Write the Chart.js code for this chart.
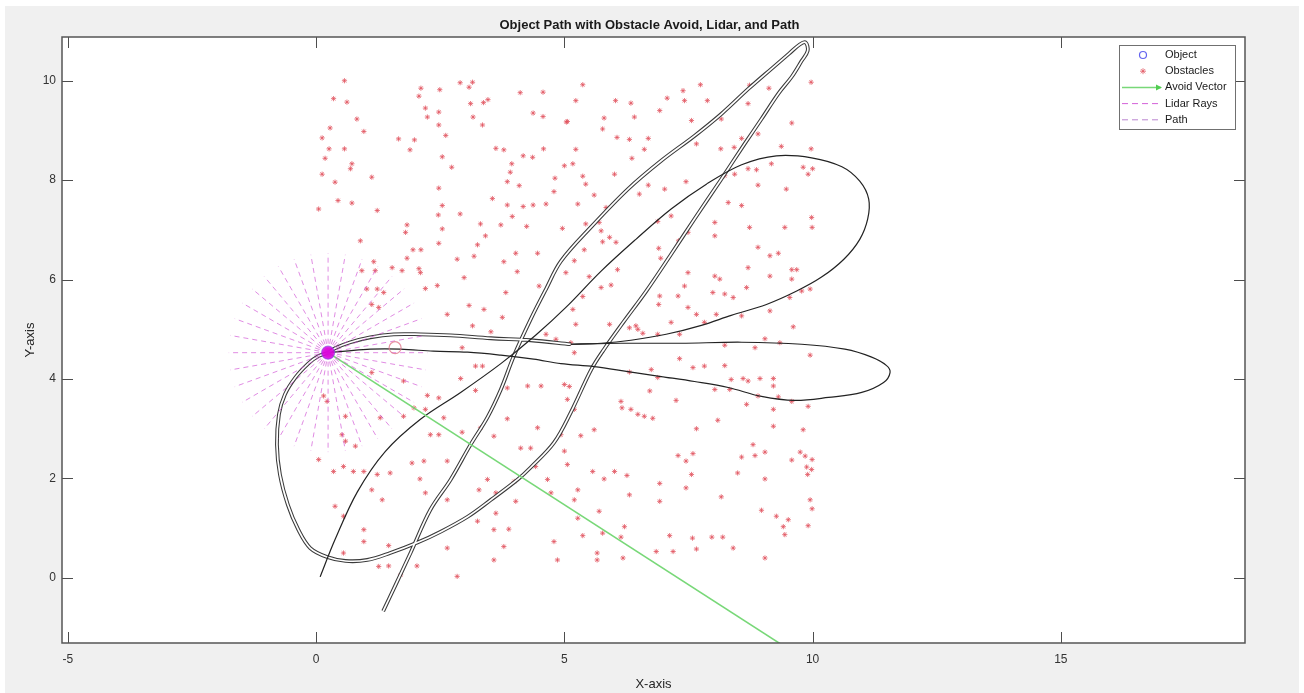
<!DOCTYPE html>
<html>
<head>
<meta charset="utf-8">
<script src="https://cdn.jsdelivr.net/npm/chart.js@4.4.1/dist/chart.umd.min.js"></script>
<style>
  html, body { margin: 0; padding: 0; background: #ffffff; overflow: hidden; }
  #wrap { position: relative; width: 1304px; height: 693px; }
</style>
</head>
<body>
<div id="wrap"><canvas id="chart" width="1304" height="693"></canvas></div>
<script>
// ---- axis ticks ----
const xTicks = [-5, 0, 5, 10, 15];
const yTicks = [0, 2, 4, 6, 8, 10];

// ---- obstacle field ----
const obstacleX = [
  0.57,0.35,0.62,0.82,0.28,0.96,0.12,0.26,0.57,0.18,0.72,0.69,0.12,0.38,1.12,0.44,0.72,0.05,1.23,0.89,
  1.83,1.80,1.66,1.98,1.89,2.11,2.07,2.49,2.20,2.47,2.24,2.47,2.61,2.54,2.73,2.90,3.15,3.08,3.11,3.37,
  3.46,3.16,3.35,4.11,4.57,4.37,4.57,5.04,3.62,3.78,4.17,4.36,4.58,3.94,3.91,5.00,3.85,4.09,4.81,4.79,
  3.55,3.85,4.17,4.37,4.63,3.95,2.47,2.54,2.46,2.90,2.54,3.31,3.41,3.72,4.24,4.96,2.47,3.25,3.18,1.95,
  2.11,1.83,2.07,2.10,2.84,2.98,3.78,4.02,4.46,4.05,1.53,1.73,0.92,1.19,1.16,2.44,2.20,2.64,3.08,3.38,
  3.75,3.82,4.49,5.03,1.02,1.23,1.36,1.12,1.26,
  5.37,5.23,6.03,6.34,7.07,7.39,7.42,7.88,7.74,8.73,9.12,9.97,5.06,5.80,5.77,6.41,6.92,7.56,8.16,8.70,
  9.58,6.06,6.31,6.69,5.23,6.61,6.36,7.66,8.15,8.42,8.57,8.90,9.37,9.97,5.17,5.37,5.43,6.01,5.60,5.27,
  6.51,6.69,7.02,7.45,8.23,8.43,8.70,8.87,9.17,9.81,9.91,10.00,8.90,9.47,8.30,8.57,5.84,5.43,5.70,5.74,
  5.91,5.77,6.04,6.88,7.15,7.49,7.30,8.03,8.03,8.73,9.44,9.98,9.99,5.40,5.20,6.90,6.94,6.07,5.50,5.74,
  5.94,5.37,7.49,8.03,8.13,8.70,8.90,9.14,9.31,9.58,9.68,9.58,9.14,9.78,9.95,7.42,6.92,6.90,7.29,7.99,
  8.23,8.40,8.67,9.14,9.54,7.49,7.66,8.06,8.57,7.82,7.15,6.44,5.91,5.23,5.17,
  3.15,3.52,4.63,4.83,2.94,3.21,3.35,2.91,3.85,3.21,4.26,4.53,5.00,1.76,1.12,2.24,2.47,1.97,2.57,2.20,
  1.29,1.76,0.59,0.15,0.22,0.52,0.59,0.79,2.30,2.47,2.94,3.85,3.31,3.58,4.46,4.12,4.32,4.93,5.00,0.05,
  0.35,0.55,0.75,0.96,1.23,1.49,1.93,2.17,2.64,2.09,3.28,3.45,3.99,4.66,5.06,1.12,1.33,2.20,2.64,0.38,
  0.55,3.62,4.02,3.62,3.25,3.58,3.88,0.96,0.96,1.46,2.64,3.78,4.79,4.86,3.58,1.26,1.46,2.03,1.70,2.84,
  0.55,4.73,4.42,
  9.61,6.48,6.58,6.31,6.88,7.32,9.04,9.34,5.13,5.20,8.23,8.84,9.95,7.32,7.59,7.82,8.23,6.75,6.88,6.31,
  5.10,8.36,8.60,8.70,8.94,9.21,9.21,8.03,8.33,8.90,9.31,9.58,9.91,6.72,5.06,5.20,6.14,6.16,6.34,6.48,
  6.61,6.78,7.25,8.67,9.21,8.09,9.21,9.81,7.66,5.60,5.33,8.80,8.57,8.84,9.04,9.58,9.75,9.85,9.99,9.88,
  9.98,9.90,7.29,7.45,7.59,7.56,8.49,9.04,5.57,5.80,6.01,6.26,6.92,7.45,6.31,6.92,8.16,9.95,9.99,5.27,
  5.20,8.97,9.27,9.51,9.41,9.44,9.91,5.70,5.27,6.21,5.77,5.37,6.14,7.12,7.58,7.66,7.97,8.19,8.40,6.85,
  7.19,5.66,5.66,6.18,9.04
];
const obstacleY = [
  10.00,9.64,9.57,9.23,9.05,8.98,8.85,8.63,8.63,8.44,8.33,8.23,8.12,7.96,8.06,7.59,7.54,7.42,7.39,6.78,
  7.10,6.95,8.83,8.81,8.61,9.85,9.69,9.82,9.45,9.37,9.27,9.11,8.90,8.47,8.26,9.96,9.97,9.87,9.54,9.56,
  9.62,9.27,9.11,9.76,9.77,9.35,9.28,9.17,8.64,8.61,8.49,8.46,8.63,8.33,8.16,8.29,7.97,7.89,8.04,7.77,
  7.63,7.50,7.47,7.50,7.52,7.27,7.84,7.49,7.30,7.32,7.02,7.12,6.88,7.10,7.07,7.03,6.73,6.70,6.47,6.60,
  6.60,6.43,6.22,6.14,6.41,6.04,6.36,6.53,6.53,6.16,6.24,6.18,6.18,6.18,6.36,5.88,5.82,5.30,5.48,5.40,
  5.24,5.74,5.87,6.14,5.81,5.81,5.74,5.50,5.44,
  9.92,9.60,9.60,9.55,9.65,9.80,9.60,9.60,9.92,9.91,9.85,9.97,9.18,9.25,9.03,9.27,9.40,9.20,9.23,9.54,
  9.15,8.86,8.82,8.84,8.62,8.62,8.44,8.73,8.63,8.66,8.84,8.93,8.68,8.63,8.33,8.08,7.92,8.12,7.70,7.52,
  7.72,7.90,7.82,7.97,8.09,8.12,8.23,8.21,8.33,8.26,8.12,8.23,7.90,7.82,7.55,7.49,7.45,7.12,7.15,6.98,
  6.85,6.76,6.75,7.17,7.28,6.95,6.78,7.15,6.88,7.05,7.05,7.25,7.05,6.60,6.38,6.63,6.43,6.20,6.06,5.84,
  5.89,5.66,6.14,6.07,6.01,6.24,6.65,6.48,6.53,6.20,6.20,6.01,6.07,5.77,5.81,5.87,5.67,5.50,5.67,5.74,
  5.71,5.64,5.84,5.37,5.64,5.44,5.30,5.30,5.27,5.14,5.14,5.07,5.10,5.10,5.40,
  5.07,4.95,4.90,4.80,4.63,4.26,4.26,4.01,3.82,3.77,3.86,3.86,3.89,3.96,4.13,3.67,3.62,3.42,3.22,3.39,
  3.22,3.25,3.25,3.66,3.55,2.88,2.75,2.65,2.88,2.88,2.93,3.20,3.02,2.85,3.02,2.61,2.61,2.88,2.55,2.38,
  2.14,2.24,2.14,2.14,2.08,2.11,2.31,2.35,2.35,1.99,1.77,1.98,1.94,1.98,2.28,1.77,1.57,1.71,1.57,1.44,
  1.24,1.71,1.54,1.30,1.14,0.97,0.98,0.97,0.73,0.65,0.60,0.63,0.73,0.36,0.36,0.23,0.24,0.24,0.06,0.03,
  0.50,1.71,2.24,
  5.05,5.00,4.92,5.03,4.90,4.90,4.81,4.73,4.73,4.53,4.68,4.63,4.48,4.41,4.23,4.26,4.27,4.19,4.03,4.14,
  3.85,3.99,4.01,3.96,4.01,4.01,3.86,3.79,3.79,3.66,3.64,3.55,3.45,3.76,3.59,3.39,3.55,3.42,3.39,3.29,
  3.25,3.21,3.57,3.49,3.39,3.17,3.05,2.98,3.00,2.98,2.86,2.68,2.43,2.46,2.53,2.37,2.53,2.45,2.38,2.23,
  2.18,2.08,2.46,2.35,2.50,2.08,2.11,1.99,2.14,1.99,2.14,2.06,1.90,1.81,1.67,1.54,1.63,1.57,1.39,1.77,
  1.57,1.36,1.24,1.17,1.03,0.87,1.05,1.34,1.20,1.03,0.90,0.85,0.82,0.85,0.80,0.58,0.82,0.82,0.60,0.53,
  0.53,0.50,0.36,0.40,0.40
];

// ---- path: the lap that is run twice (narrow loop, lower loop, top run into the start point) ----
const pathLoopX = [
  1.35,1.60,1.90,2.30,2.71,3.11,3.45,3.72,3.98,4.32,4.63,4.93,5.54,6.28,6.95,7.62,8.16,8.71,9.17,9.52,
  9.74,9.86,9.90,9.78,9.58,9.31,8.97,8.63,8.16,7.62,7.15,6.65,6.20,5.80,5.54,5.13,4.79,4.32,4.06,3.52,
  3.05,2.51,2.04,1.49,1.03,0.59,0.22,-0.12,-0.36,-0.57,-0.73,-0.79,-0.75,-0.63,-0.42,-0.16,0.04,0.24,
  0.38,0.69,1.09,1.56,2.10,2.71,3.52,4.32,5.13
];
const pathLoopY = [
  -0.67,-0.14,0.50,1.37,1.98,2.68,3.23,3.79,4.46,5.20,5.81,6.37,7.06,7.82,8.39,8.89,9.33,9.84,10.24,10.54,
  10.73,10.77,10.60,10.40,10.08,9.74,9.23,8.73,8.02,7.22,6.51,5.77,5.16,4.60,4.19,3.33,2.72,2.22,1.98,1.57,
  1.23,0.93,0.71,0.50,0.36,0.34,0.42,0.60,0.97,1.47,2.08,2.68,3.29,3.69,4.03,4.31,4.46,4.53,
  4.62,4.74,4.84,4.90,4.90,4.88,4.82,4.78,4.70
];

// ---- path: run from the origin round the upper right loop ----
const pathArcX = [
  0.08,0.38,0.83,1.39,2.10,2.91,3.72,4.42,5.03,5.74,6.44,7.15,7.86,8.57,9.27,9.98,10.59,10.95,11.13,11.11,
  10.95,10.63,10.18,9.68,9.07,8.36,7.76,7.05,6.34,5.74,5.13
];
const pathArcY = [
  0.02,0.77,1.73,2.54,3.19,3.73,4.31,4.88,5.44,6.17,6.81,7.42,7.92,8.31,8.49,8.45,8.27,7.98,7.62,7.22,
  6.81,6.41,6.05,5.77,5.50,5.28,5.08,4.90,4.78,4.72,4.70
];

// ---- path: the long horizontal loop back to the start point ----
const pathBandX = [
  5.13,6.14,7.35,8.57,9.78,10.65,11.19,11.49,11.56,11.43,10.99,10.32,9.64,8.97,8.30,7.62,6.95,6.28,5.60,
  4.93,4.38,3.72,3.05,2.36,1.70,1.09,0.59,0.24
];
const pathBandY = [
  4.70,4.72,4.72,4.74,4.70,4.60,4.44,4.27,4.13,3.93,3.73,3.63,3.57,3.65,3.83,3.95,4.05,4.15,4.25,
  4.31,4.40,4.48,4.54,4.56,4.60,4.60,4.56,4.53
];

// ---- object, goal, avoidance vector and lidar ----
const objectPos = [0.24, 4.53];
const goalPos = [1.59, 4.63];
const avoidTip = [9.90, -1.68];
const lidarAngles = [0,10,20,30,40,50,60,70,80,90,100,110,120,130,140,150,160,170,
                     180,190,200,210,220,230,240,250,260,270,280,290,300,310,320,330,340,350];
const lidarRange = 2.0;

const legendLabels = ['Object', 'Obstacles', 'Avoid Vector', 'Lidar Rays', 'Path'];
const titleText = 'Object Path with Obstacle Avoid, Lidar, and Path';

// ---- build point lists ----
const toPoints = (xs, ys) => xs.map((x, i) => ({ x: x, y: ys[i] }));
const lidarPoints = [];
lidarAngles.forEach(deg => {
  const t = deg * Math.PI / 180;
  lidarPoints.push({ x: objectPos[0], y: objectPos[1] });
  lidarPoints.push({ x: objectPos[0] + lidarRange * Math.cos(t), y: objectPos[1] + lidarRange * Math.sin(t) });
  lidarPoints.push({ x: NaN, y: NaN });
});

const FONT = '"Liberation Sans", Arial, Helvetica, sans-serif';
const INK = '#262626';
const RED = 'rgba(226,84,96,0.78)';
const GREEN = 'rgb(120,216,120)';
const MAGENTA = 'rgba(205,70,210,0.62)';
const PATHDASH = 'rgba(175,110,200,0.85)';
const BLUE = 'rgba(60,60,235,0.8)';
const TICK = 11;

const line = (extra) => Object.assign({ showLine: true, pointRadius: 0, fill: false, tension: 0.35 }, extra);

const datasets = [
  { label: 'Obstacles', data: toPoints(obstacleX, obstacleY), showLine: false,
    pointStyle: 'star', pointRadius: 2.6, borderColor: RED, backgroundColor: RED, pointBorderWidth: 1, order: 9 },
  line({ label: 'Path', data: toPoints(pathLoopX, pathLoopY), borderColor: '#3a3a3a', borderWidth: 3.8, order: 8 }),
  line({ label: 'Path core', data: toPoints(pathLoopX, pathLoopY), borderColor: '#ffffff', borderWidth: 1.7, order: 7 }),
  line({ label: 'Path arc', data: toPoints(pathArcX, pathArcY), borderColor: '#222222', borderWidth: 1.2, order: 6 }),
  line({ label: 'Path band', data: toPoints(pathBandX, pathBandY), borderColor: '#222222', borderWidth: 1.2, order: 6 }),
  line({ label: 'Avoid Vector', data: [{ x: objectPos[0], y: objectPos[1] }, { x: avoidTip[0], y: avoidTip[1] }],
        borderColor: GREEN, borderWidth: 1.6, tension: 0, order: 5 }),
  line({ label: 'Lidar Rays', data: lidarPoints, borderColor: MAGENTA, borderWidth: 1, borderDash: [5, 4],
        tension: 0, spanGaps: false, order: 4 }),
  { label: 'Goal', data: [{ x: goalPos[0], y: goalPos[1] }], showLine: false, pointStyle: 'circle',
    pointRadius: 6, borderColor: 'rgba(225,120,140,0.8)', backgroundColor: 'rgba(0,0,0,0)', pointBorderWidth: 1.2, order: 3 },
  { label: 'Object', data: [{ x: objectPos[0], y: objectPos[1] }], showLine: false, pointStyle: 'circle',
    pointRadius: 6.5, borderColor: 'rgba(150,60,230,0.7)', backgroundColor: 'rgba(220,0,220,0.85)', pointBorderWidth: 1.2, order: 2 }
];

// background, axes box with inward ticks, title and legend
const framePlugin = {
  id: 'matlabFrame',
  beforeDraw(chart) {
    const { ctx, width, height, chartArea: a } = chart;
    ctx.save();
    ctx.fillStyle = '#ffffff';
    ctx.fillRect(0, 0, width, height);
    ctx.fillStyle = '#f0f0f0';
    ctx.fillRect(5, 6, width - 10, height - 6);
    ctx.fillStyle = '#ffffff';
    ctx.fillRect(a.left, a.top, a.right - a.left, a.bottom - a.top);
    ctx.restore();
  },
  afterDatasetsDraw(chart) {
    const { ctx, chartArea: a, scales } = chart;
    ctx.save();
    ctx.strokeStyle = '#4d4d4d';
    ctx.lineWidth = 1;
    ctx.beginPath();
    xTicks.forEach(v => {
      const p = Math.round(scales.x.getPixelForValue(v)) + 0.5;
      ctx.moveTo(p, a.bottom); ctx.lineTo(p, a.bottom - TICK);
      ctx.moveTo(p, a.top); ctx.lineTo(p, a.top + TICK);
    });
    yTicks.forEach(v => {
      const p = Math.round(scales.y.getPixelForValue(v)) + 0.5;
      ctx.moveTo(a.left, p); ctx.lineTo(a.left + TICK, p);
      ctx.moveTo(a.right, p); ctx.lineTo(a.right - TICK, p);
    });
    ctx.stroke();
    ctx.strokeStyle = '#555555';
    ctx.lineWidth = 1.5;
    ctx.strokeRect(a.left, a.top, a.right - a.left, a.bottom - a.top);
    ctx.restore();
  },
  afterDraw(chart) {
    const { ctx, chartArea: a } = chart;
    ctx.save();
    // title
    ctx.fillStyle = '#1a1a1a';
    ctx.font = 'bold 13px ' + FONT;
    ctx.textAlign = 'center';
    ctx.textBaseline = 'middle';
    ctx.fillText(titleText, (a.left + a.right) / 2 - 4, 25);

    // legend
    const bx = a.right - 126, by = a.top + 8, bw = 116, bh = 84;
    ctx.fillStyle = '#ffffff';
    ctx.fillRect(bx, by, bw, bh);
    ctx.strokeStyle = '#707070';
    ctx.lineWidth = 1;
    ctx.strokeRect(bx + 0.5, by + 0.5, bw, bh);
    const sx0 = bx + 3, sx1 = bx + 42, mx = bx + 24;
    legendLabels.forEach((lab, i) => {
      const ry = by + 10 + i * 16.2;
      ctx.save();
      if (i === 0) {
        ctx.strokeStyle = BLUE; ctx.lineWidth = 1.2;
        ctx.beginPath(); ctx.arc(mx, ry, 3.5, 0, Math.PI * 2); ctx.stroke();
      } else if (i === 1) {
        ctx.strokeStyle = RED; ctx.lineWidth = 1;
        ctx.beginPath();
        for (let k = 0; k < 4; k++) {
          const t = k * Math.PI / 4;
          ctx.moveTo(mx - 3 * Math.cos(t), ry - 3 * Math.sin(t));
          ctx.lineTo(mx + 3 * Math.cos(t), ry + 3 * Math.sin(t));
        }
        ctx.stroke();
      } else if (i === 2) {
        ctx.strokeStyle = GREEN; ctx.fillStyle = 'rgb(80,205,80)'; ctx.lineWidth = 1.5;
        ctx.beginPath(); ctx.moveTo(sx0, ry); ctx.lineTo(sx1, ry); ctx.stroke();
        ctx.beginPath(); ctx.moveTo(sx1 + 1, ry); ctx.lineTo(sx1 - 5, ry - 3); ctx.lineTo(sx1 - 5, ry + 3); ctx.closePath(); ctx.fill();
      } else {
        ctx.strokeStyle = i === 3 ? 'rgba(205,70,210,0.85)' : PATHDASH; ctx.lineWidth = 1;
        ctx.setLineDash([6, 4]);
        ctx.beginPath(); ctx.moveTo(sx0, ry); ctx.lineTo(sx1, ry); ctx.stroke();
      }
      ctx.restore();
      ctx.fillStyle = '#1a1a1a';
      ctx.font = '11px ' + FONT;
      ctx.textAlign = 'left';
      ctx.textBaseline = 'middle';
      ctx.fillText(lab, bx + 46, ry);
    });
    ctx.restore();
  }
};

const tickFont = { family: FONT, size: 12 };
const titleFont = { family: FONT, size: 13 };

new Chart(document.getElementById('chart'), {
  type: 'scatter',
  data: { datasets: datasets },
  options: {
    responsive: false,
    animation: false,
    events: [],
    layout: { padding: { left: 0, right: 59, top: 37, bottom: 0 } },
    plugins: { legend: { display: false }, tooltip: { enabled: false }, title: { display: false } },
    scales: {
      x: {
        type: 'linear', position: 'bottom', min: -5.12, max: 18.71,
        afterFit: s => { s.height = 50; },
        afterBuildTicks: s => { s.ticks = xTicks.map(v => ({ value: v })); },
        grid: { display: false, drawTicks: false }, border: { display: false },
        ticks: { padding: 9, maxRotation: 0, autoSkip: false, color: '#333333', font: tickFont,
                 callback: v => String(v) },
        title: { display: true, text: 'X-axis', color: INK, font: titleFont, padding: { top: 0, bottom: 1 } }
      },
      y: {
        type: 'linear', position: 'left', min: -1.31, max: 10.88,
        afterFit: s => { s.width = 62; },
        afterBuildTicks: s => { s.ticks = yTicks.map(v => ({ value: v })); },
        grid: { display: false, drawTicks: false }, border: { display: false },
        ticks: { padding: 6, autoSkip: false, color: '#333333', font: tickFont, callback: v => String(v) },
        title: { display: true, text: 'Y-axis', color: INK, font: titleFont, padding: { top: 23, bottom: 0 } }
      }
    }
  },
  plugins: [framePlugin]
});
</script>
</body>
</html>
